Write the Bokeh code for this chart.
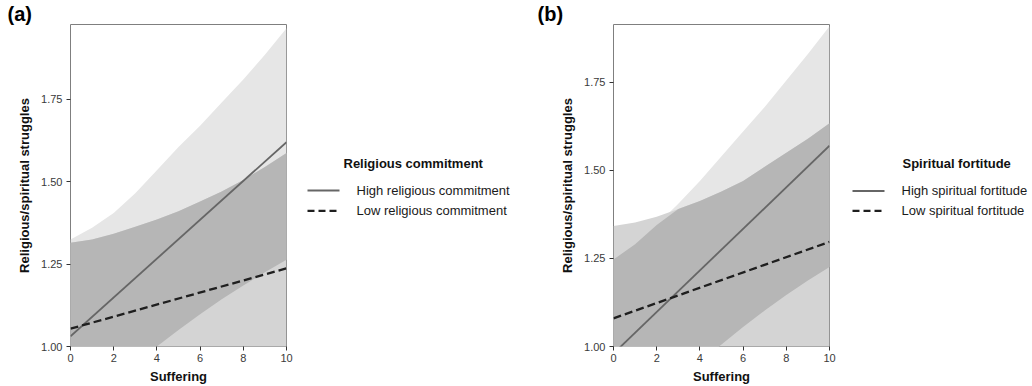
from bokeh.plotting import figure
from bokeh.layouts import row
from bokeh.models import Range1d, FixedTicker, NumeralTickFormatter
from bokeh.core.properties import value
from bokeh.embed import file_html
from bokeh.resources import INLINE
import numpy as np

# ---------------- data ----------------
suffering = [0, 1, 2, 3, 4, 5, 6, 7, 8, 9, 10]
line_x = [0, 10]
x_ticks = [0, 2, 4, 6, 8, 10]
y_ticks = [1.00, 1.25, 1.50, 1.75]

# Panel (a): religious commitment
a_high_fit = [1.031, 1.620]
a_low_fit = [1.054, 1.237]
a_high_upper = [1.325, 1.36, 1.405, 1.465, 1.535, 1.605, 1.67, 1.74, 1.81, 1.885, 1.966]
a_high_lower = [0.742, 0.80, 0.86, 0.93, 1.00, 1.05, 1.098, 1.143, 1.185, 1.225, 1.263]
a_low_upper = [1.315, 1.325, 1.342, 1.363, 1.385, 1.41, 1.44, 1.47, 1.505, 1.545, 1.587]
a_low_lower = [0.79, 0.82, 0.85, 0.87, 0.88, 0.88, 0.88, 0.88, 0.88, 0.89, 0.89]

# Panel (b): spiritual fortitude
b_high_fit = [0.980, 1.570]
b_low_fit = [1.080, 1.297]
b_high_upper = [1.247, 1.29, 1.345, 1.405, 1.47, 1.54, 1.61, 1.68, 1.755, 1.83, 1.909]
b_high_lower = [0.725, 0.785, 0.845, 0.90, 0.955, 1.006, 1.055, 1.102, 1.146, 1.187, 1.226]
b_low_upper = [1.342, 1.352, 1.368, 1.39, 1.413, 1.44, 1.47, 1.51, 1.55, 1.59, 1.634]
b_low_lower = [0.818, 0.85, 0.875, 0.895, 0.91, 0.92, 0.93, 0.94, 0.945, 0.952, 0.96]

a_legend_title = "Religious commitment"
a_labels = ["High religious commitment", "Low religious commitment"]
b_legend_title = "Spiritual fortitude"
b_labels = ["High spiritual fortitude", "Low spiritual fortitude"]

FONT = "Liberation Sans"
HIGH_FILL = "#e6e6e6"
LOW_FILL = "#d4d4d4"
BOTH_FILL = "#b6b6b6"
HIGH_LINE = dict(line_color="#666666", line_width=1.8)
LOW_LINE = dict(line_color="#1f1f1f", line_width=2.3)

H = 386
FRAME_W = 216
TOP = 23
BOTTOM = 40
FRAME_H = H - TOP - BOTTOM
RIGHT = 10


def panel(tag, left, y_top, hu, hl, lu, ll, hfit, lfit, tag_x):
    p = figure(width=left + FRAME_W + RIGHT, height=H, output_backend="svg",
               toolbar_location=None,
               x_range=Range1d(0, 10), y_range=Range1d(1.0, y_top),
               min_border_left=left, min_border_right=RIGHT,
               min_border_top=TOP, min_border_bottom=BOTTOM)
    p.xgrid.visible = False
    p.ygrid.visible = False
    p.outline_line_color = "#7f7f7f"
    p.outline_line_width = 1

    hu_a, hl_a, lu_a, ll_a = map(np.array, (hu, hl, lu, ll))
    p.varea(x=suffering, y1=hl, y2=hu, fill_color=HIGH_FILL)
    p.varea(x=suffering, y1=ll, y2=lu, fill_color=LOW_FILL)
    bot = np.maximum(hl_a, ll_a)
    top = np.minimum(hu_a, lu_a)
    p.varea(x=suffering, y1=bot, y2=np.maximum(top, bot), fill_color=BOTH_FILL)

    p.line(line_x, hfit, **HIGH_LINE)
    p.line(line_x, lfit, line_dash="8 4", **LOW_LINE)

    for ax in (p.xaxis, p.yaxis):
        ax.axis_line_color = None
        ax.major_tick_line_color = "#333333"
        ax.major_tick_out = 4
        ax.major_tick_in = 0
        ax.minor_tick_line_color = None
        ax.major_label_text_font = FONT
        ax.major_label_text_font_size = "11px"
        ax.major_label_text_color = "#3a3a3a"
        ax.axis_label_text_font = FONT
        ax.axis_label_text_font_size = "13px"
        ax.axis_label_text_font_style = "bold"
        ax.axis_label_text_color = "#111111"
    p.xaxis.ticker = FixedTicker(ticks=x_ticks)
    p.yaxis.ticker = FixedTicker(ticks=y_ticks)
    p.yaxis.formatter = NumeralTickFormatter(format="0.00")
    p.xaxis.axis_label = "Suffering"
    p.yaxis.axis_label = "Religious/spiritual struggles"
    p.xaxis.major_label_standoff = 3
    p.xaxis.axis_label_standoff = 4
    p.yaxis.major_label_standoff = 4
    p.yaxis.axis_label_standoff = 6

    p.title.text = tag
    p.title.text_font = FONT
    p.title.text_font_size = "20px"
    p.title.text_font_style = "bold"
    p.title.text_color = "#000000"
    p.title.align = "left"
    p.title.offset = tag_x - left
    p.title.standoff = 0
    return p


def legend_fig(x0, width, title, labels, title_x, key_x, label_x, rows_y):
    # blank frame (aligned with the plot frames by the row layout) whose
    # coordinates are page pixels, y downwards
    f = figure(width=width, height=H, output_backend="svg", toolbar_location=None,
               x_range=Range1d(x0, x0 + width), y_range=Range1d(TOP + FRAME_H, TOP),
               x_axis_type=None, y_axis_type=None, min_border=0)
    f.xgrid.visible = False
    f.ygrid.visible = False
    f.outline_line_color = None
    f.text(x=[title_x], y=[162], text=[title], text_font=value(FONT),
           text_font_size="13px", text_font_style="bold", text_color="#111111",
           text_baseline="middle", text_align="left")
    f.line([key_x, key_x + 32], [rows_y[0], rows_y[0]], **HIGH_LINE)
    f.line([key_x, key_x + 32], [rows_y[1], rows_y[1]], line_dash="7 4", **LOW_LINE)
    f.text(x=[label_x, label_x], y=rows_y, text=labels, text_font=value(FONT),
           text_font_size="13px", text_color="#1a1a1a",
           text_baseline="middle", text_align="left")
    return f


pa = panel("(a)", 70, 1.977, a_high_upper, a_high_lower, a_low_upper, a_low_lower,
           a_high_fit, a_low_fit, tag_x=7)
wa = 70 + FRAME_W + RIGHT
la = legend_fig(wa, 520 - wa, a_legend_title, a_labels,
                title_x=343, key_x=307, label_x=356, rows_y=[189.5, 210])
pb = panel("(b)", 93, 1.914, b_high_upper, b_high_lower, b_low_upper, b_low_lower,
           b_high_fit, b_low_fit, tag_x=17)
wb = 520 + 93 + FRAME_W + RIGHT
lb = legend_fig(wb, 1032 - wb, b_legend_title, b_labels,
                title_x=902, key_x=852, label_x=901, rows_y=[190, 210])

layout = row(pa, la, pb, lb)
open("out.html", "w").write(file_html(layout, INLINE))
